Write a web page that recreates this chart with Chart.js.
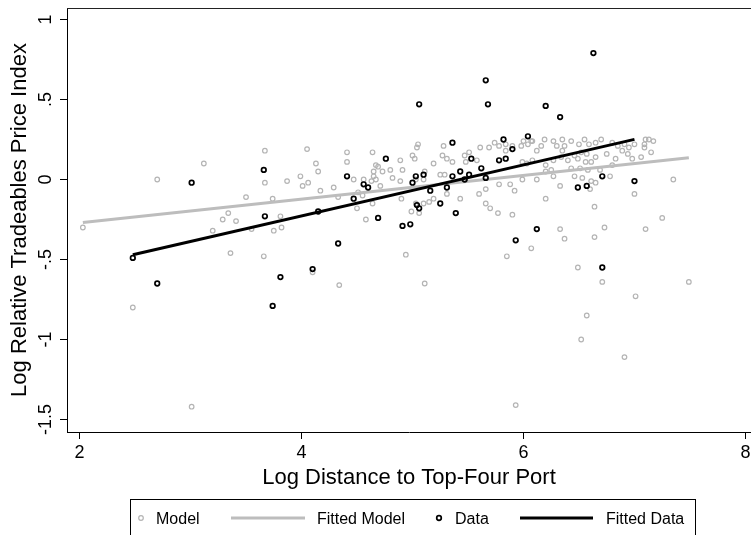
<!DOCTYPE html>
<html>
<head>
<meta charset="utf-8">
<script src="https://cdn.jsdelivr.net/npm/chart.js@4.4.1/dist/chart.umd.min.js"></script>
<style>
  html, body { margin: 0; padding: 0; background: #fff; }
</style>
</head>
<body>
<canvas id="myChart" width="751" height="535"></canvas>
<script>
/* global Chart */

// model (gray circles)
const modelX = [2.03, 2.48, 2.70, 3.01, 3.12, 3.20, 3.29, 3.34, 3.36, 3.41, 3.50, 3.55, 3.66, 3.67, 3.67,
  3.74, 3.75, 3.81, 3.82, 3.87, 3.99, 4.01, 4.05, 4.06, 4.10, 4.13, 4.15, 4.17, 4.29, 4.33,
  4.34, 4.41, 4.41, 4.47, 4.50, 4.51, 4.55, 4.56, 4.58, 4.63, 4.64, 4.64, 4.65, 4.65, 4.67,
  4.69, 4.67, 4.71, 4.73, 4.80, 4.82, 4.89, 4.89, 4.90, 4.91, 4.94, 4.99, 5.00, 5.02, 5.03,
  5.03, 5.04, 5.05, 5.06, 5.10, 5.10, 5.11, 5.11, 5.15, 5.19, 5.19, 5.25, 5.27, 5.28, 5.29,
  5.31, 5.31, 5.36, 5.43, 5.47, 5.48, 5.51, 5.58, 5.60, 5.61, 5.66, 5.66, 5.69, 5.70, 5.74,
  5.77, 5.78, 5.78, 5.84, 5.84, 5.85, 5.88, 5.90, 5.90, 5.92, 5.93, 5.98, 5.99, 5.99, 6.00,
  6.03, 6.04, 6.07, 6.07, 6.08, 6.08, 6.12, 6.12, 6.16, 6.19, 6.20, 6.20, 6.20, 6.25, 6.27,
  6.27, 6.27, 6.30, 6.33, 6.33, 6.34, 6.35, 6.35, 6.37, 6.37, 6.40, 6.43, 6.43, 6.46, 6.46,
  6.49, 6.49, 6.50, 6.51, 6.52, 6.52, 6.53, 6.55, 6.56, 6.57, 6.57, 6.58, 6.59, 6.60, 6.61,
  6.61, 6.64, 6.64, 6.65, 6.65, 6.65, 6.69, 6.70, 6.71, 6.73, 6.75, 6.78, 6.80, 6.80, 6.83,
  6.85, 6.89, 6.91, 6.91, 6.94, 6.95, 6.98, 7.00, 7.00, 7.01, 7.06, 7.09, 7.09, 7.10, 7.10,
  7.13, 7.15, 7.17, 7.25, 7.35, 7.49];
const modelY = [-0.30, -0.80, 0.00, -1.42, 0.10, -0.32, -0.25, -0.21, -0.46, -0.26, -0.11, -0.31, -0.48, 0.18, -0.02,
  -0.12, -0.32, -0.23, -0.30, -0.01, 0.02, -0.04, 0.19, -0.02, -0.58, 0.10, 0.05, -0.07, -0.05, -0.11,
  -0.66, 0.17, 0.11, 0.00, -0.18, -0.08, -0.10, 0.00, -0.25, -0.01, 0.17, -0.15, 0.05, 0.02, 0.09,
  0.08, 0.00, -0.04, 0.05, 0.06, 0.01, 0.12, -0.01, -0.12, 0.06, -0.47, -0.20, 0.15, 0.13, 0.00,
  -0.15, 0.20, 0.22, -0.21, 0.00, -0.15, 0.05, -0.65, -0.14, 0.10, -0.12, 0.03, 0.15, 0.21, 0.03,
  0.13, -0.09, 0.11, -0.12, 0.15, 0.11, 0.17, 0.12, -0.09, 0.20, -0.06, -0.15, 0.20, -0.18, 0.23,
  -0.21, 0.21, -0.03, 0.18, 0.22, -0.48, -0.03, 0.21, -0.22, -0.07, -1.41, 0.21, 0.11, 0.00, 0.24,
  0.10, 0.22, 0.24, -0.43, 0.24, 0.12, 0.18, 0.00, 0.21, 0.25, 0.09, 0.05, -0.12, 0.06, 0.24,
  0.12, 0.02, 0.21, -0.04, -0.31, 0.14, 0.25, 0.18, 0.21, -0.37, 0.12, 0.24, 0.07, 0.15, 0.02,
  0.13, -0.55, 0.22, 0.07, 0.17, -1.00, 0.01, 0.25, 0.11, 0.16, -0.85, 0.06, 0.22, -0.06, 0.11,
  -0.01, -0.36, -0.17, 0.23, 0.14, -0.02, 0.06, 0.25, -0.64, -0.30, 0.16, 0.02, 0.23, 0.09, 0.13,
  0.21, 0.18, 0.22, -1.11, 0.16, 0.20, 0.13, 0.22, -0.09, -0.73, 0.14, 0.22, 0.20, 0.25, -0.31,
  0.25, 0.17, 0.24, -0.24, 0.00, -0.64];

// data (black circles)
const dataX = [2.48, 2.70, 3.01, 3.66, 3.67, 3.74, 3.81, 4.10, 4.15, 4.33, 4.41, 4.47, 4.56, 4.60, 4.69,
  4.76, 4.91, 4.98, 5.00, 5.03, 5.04, 5.06, 5.06, 5.10, 5.16, 5.25, 5.31, 5.36, 5.36, 5.39,
  5.43, 5.47, 5.51, 5.53, 5.62, 5.66, 5.66, 5.68, 5.78, 5.82, 5.84, 5.90, 5.93, 6.04, 6.12,
  6.20, 6.33, 6.49, 6.57, 6.63, 6.71, 6.71, 7.00];
const dataY = [-0.49, -0.65, -0.02, 0.06, -0.23, -0.79, -0.61, -0.56, -0.20, -0.40, 0.02, -0.12, -0.03, -0.05, -0.24,
  0.13, -0.29, -0.28, -0.02, 0.02, -0.16, -0.18, 0.47, 0.03, -0.07, -0.15, -0.05, 0.23, 0.02, -0.21,
  0.05, 0.00, 0.03, 0.13, 0.07, 0.01, 0.62, 0.47, 0.12, 0.25, 0.13, 0.19, -0.38, 0.27, -0.31,
  0.46, 0.39, -0.05, -0.04, 0.79, 0.02, -0.55, -0.01];

// fitted lines (end points)
const fitModelX = [2.03, 7.49];
const fitModelY = [-0.268, 0.136];
const fitDataX = [2.48, 7.00];
const fitDataY = [-0.47, 0.251];

// axes
const xTicks = [2, 4, 6, 8];
const yTicks = [-1.5, -1, -0.5, 0, 0.5, 1];
const yTickLabels = ['-1.5', '-1', '-.5', '0', '.5', '1'];

const FONT = "'Liberation Sans', Arial, Helvetica, sans-serif";
const GRAY = '#b4b4b4';

function pts(xs, ys) {
  return xs.map((x, i) => ({ x: x, y: ys[i] }));
}

// rotated y tick labels, top border and boxed legend
const extras = {
  id: 'extras',
  afterDraw(chart) {
    const ctx = chart.ctx;
    const area = chart.chartArea;
    const ys = chart.scales.y;
    ctx.save();
    ctx.strokeStyle = '#222';
    ctx.lineWidth = 1;
    ctx.beginPath();
    ctx.moveTo(area.left, area.top + 0.5);
    ctx.lineTo(area.right, area.top + 0.5);
    ctx.stroke();

    ctx.fillStyle = '#000';
    ctx.font = '18px ' + FONT;
    ctx.textAlign = 'center';
    ctx.textBaseline = 'middle';
    yTicks.forEach((v, i) => {
      const py = ys.getPixelForValue(v);
      ctx.save();
      ctx.translate(46, py);
      ctx.rotate(-Math.PI / 2);
      ctx.fillText(yTickLabels[i], 0, 0);
      ctx.restore();
    });

    // legend
    ctx.strokeStyle = '#000';
    ctx.lineWidth = 1;
    ctx.strokeRect(130.5, 499.5, 565, 60);
    const ds = chart.data.datasets;
    const ly = 518;
    ctx.font = '16px ' + FONT;
    ctx.textAlign = 'left';
    ctx.textBaseline = 'alphabetic';
    const items = [
      { d: ds[0], sym: 141, tx: 156 },
      { d: ds[1], sym: [231, 305], tx: 317 },
      { d: ds[2], sym: 439, tx: 455 },
      { d: ds[3], sym: [520, 593], tx: 606 }
    ];
    items.forEach(it => {
      ctx.strokeStyle = it.d.borderColor;
      if (Array.isArray(it.sym)) {
        ctx.lineWidth = it.d.borderWidth;
        ctx.beginPath();
        ctx.moveTo(it.sym[0], ly);
        ctx.lineTo(it.sym[1], ly);
        ctx.stroke();
      } else {
        ctx.lineWidth = it.d.pointBorderWidth;
        ctx.beginPath();
        ctx.arc(it.sym, ly, it.d.pointRadius, 0, Math.PI * 2);
        ctx.stroke();
      }
      ctx.fillStyle = '#000';
      ctx.fillText(it.d.label, it.tx, ly + 6);
    });
    ctx.restore();
  }
};

const ctx = document.getElementById('myChart').getContext('2d');

const chart = new Chart(ctx, {
  type: 'scatter',
  data: {
    datasets: [{
      label: 'Model',
      data: pts(modelX, modelY),
      borderColor: GRAY,
      backgroundColor: 'rgba(0,0,0,0)',
      pointRadius: 2.3,
      pointBorderWidth: 1.2,
      order: 4
    },
    {
      label: 'Fitted Model',
      data: pts(fitModelX, fitModelY),
      showLine: true,
      borderColor: '#bdbdbd',
      borderWidth: 3,
      pointRadius: 0,
      order: 3
    },
    {
      label: 'Data',
      data: pts(dataX, dataY),
      borderColor: '#000',
      backgroundColor: 'rgba(0,0,0,0)',
      pointRadius: 2.3,
      pointBorderWidth: 1.7,
      order: 2
    },
    {
      label: 'Fitted Data',
      data: pts(fitDataX, fitDataY),
      showLine: true,
      borderColor: '#000',
      borderWidth: 3,
      pointRadius: 0,
      order: 1
    }]
  },
  options: {
    responsive: false,
    animation: false,
    events: [],
    // plot runs right up to the canvas edge
    layout: { autoPadding: false, padding: { top: 8, right: 0, bottom: 38, left: 0 } },
    plugins: {
      legend: { display: false },
      tooltip: { enabled: false }
    },
    scales: {
      x: {
        type: 'linear',
        min: 1.887,
        max: 8.05,
        afterBuildTicks: s => { s.ticks = xTicks.map(v => ({ value: v })); },
        afterFit: s => { s.height = 65; s.paddingRight = 0; },
        ticks: { color: '#000', font: { family: FONT, size: 18 }, padding: 3, maxRotation: 0 },
        grid: { display: true, drawOnChartArea: false, drawTicks: true, tickLength: 7, color: '#000' },
        border: { display: true, color: '#000', width: 1 },
        title: {
          display: true,
          text: 'Log Distance to Top-Four Port',
          color: '#000',
          font: { family: FONT, size: 22 },
          padding: { top: 0, bottom: 6 }
        }
      },
      y: {
        type: 'linear',
        min: -1.578,
        max: 1.072,
        afterBuildTicks: s => { s.ticks = yTicks.map(v => ({ value: v })); },
        afterFit: s => { s.width = 67; },
        ticks: { display: false },
        grid: { display: true, drawOnChartArea: false, drawTicks: true, tickLength: 7, color: '#000' },
        border: { display: true, color: '#000', width: 1 },
        title: {
          display: true,
          text: 'Log Relative Tradeables Price Index',
          color: '#000',
          font: { family: FONT, size: 22 },
          padding: { top: 7, bottom: 0 }
        }
      }
    }
  },
  plugins: [extras]
});
</script>
</body>
</html>
